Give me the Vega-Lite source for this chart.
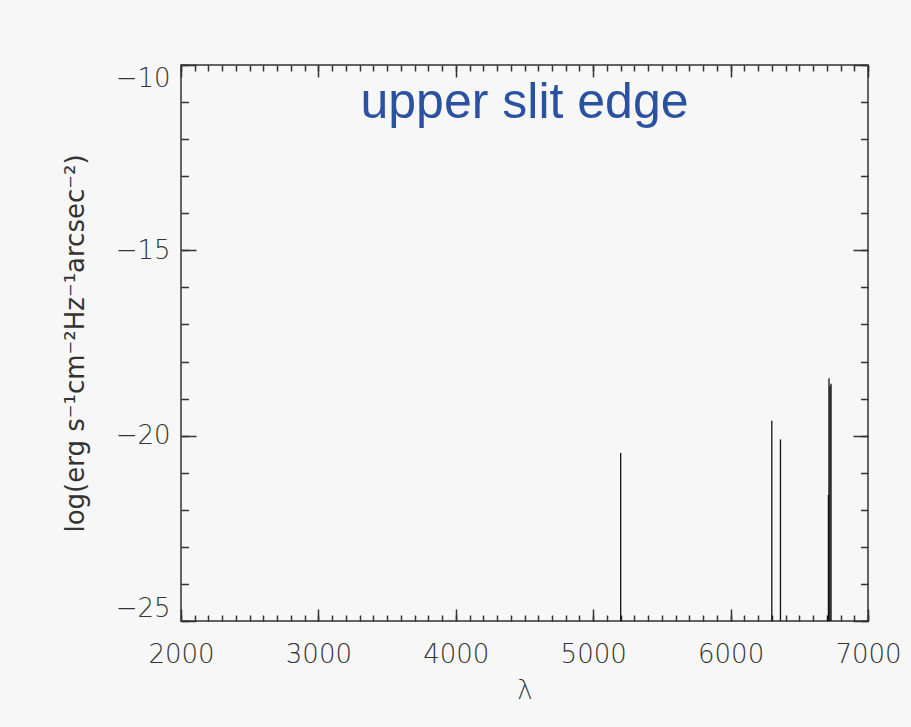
{
  "$schema": "https://vega.github.io/schema/vega-lite/v6.json",
  "width": 687,
  "height": 556,
  "autosize": {"type": "none"},
  "padding": {"left": 181, "top": 65, "right": 43, "bottom": 106},
  "background": "#f7f7f7",
  "config": {
    "view": {"stroke": "#333333", "strokeWidth": 1.5},
    "axis": {"domain": false, "grid": false, "tickColor": "#333333", "tickWidth": 1.5}
  },
  "data": {
    "values": [
      {"lambda": 5200, "logflux": -20.47},
      {"lambda": 6300, "logflux": -19.6},
      {"lambda": 6363, "logflux": -20.1},
      {"lambda": 6708, "logflux": -24.85},
      {"lambda": 6712, "logflux": -21.6},
      {"lambda": 6716, "logflux": -18.45},
      {"lambda": 6723, "logflux": -18.65},
      {"lambda": 6731, "logflux": -18.6}
    ]
  },
  "layer": [
    {
      "mark": {"type": "rule", "color": "#111111", "strokeWidth": 1.3, "clip": true},
      "encoding": {
        "x": {
          "field": "lambda", "type": "quantitative",
          "scale": {"domain": [2000, 7000], "nice": false, "zero": false},
          "axis": {
            "orient": "bottom", "values": [2000, 3000, 4000, 5000, 6000, 7000], "ticks": false,
            "format": "d", "labelFont": "DejaVu Sans", "labelFontSize": 26, "labelFontWeight": 200, "labelColor": "#333333",
            "labelPadding": 20, "labelFlush": false,
            "title": "λ", "titleFont": "DejaVu Sans", "titleFontSize": 26, "titleFontWeight": 200,
            "titleColor": "#333333", "titlePadding": 10
          }
        },
        "y": {
          "field": "logflux", "type": "quantitative",
          "scale": {"domain": [-25, -10], "nice": false, "zero": false},
          "axis": {
            "orient": "left", "values": [-25, -20, -15, -10], "ticks": false,
            "format": "d", "labelFont": "DejaVu Sans", "labelFontSize": 26, "labelFontWeight": 200, "labelColor": "#333333",
            "labelPadding": 11, "labelFlush": true,
            "title": "log(erg s⁻¹cm⁻²Hz⁻¹arcsec⁻²)", "titleFont": "DejaVu Sans", "titleFontSize": 26,
            "titleFontWeight": "normal", "titleColor": "#333333", "titlePadding": 27
          }
        },
        "y2": {"datum": -25}
      }
    },
    {
      "mark": {"type": "point", "opacity": 0},
      "encoding": {
        "x": {"field": "lambda", "type": "quantitative",
          "axis": {"orient": "bottom", "values": [2000, 3000, 4000, 5000, 6000, 7000], "labels": false, "tickSize": -12, "title": null}},
        "y": {"field": "logflux", "type": "quantitative",
          "axis": {"orient": "left", "values": [-25, -20, -15, -10], "labels": false, "tickSize": -15, "title": null}}
      }
    },
    {
      "mark": {"type": "point", "opacity": 0},
      "encoding": {
        "x": {"field": "lambda", "type": "quantitative",
          "axis": {"orient": "bottom", "values": [2000,2100,2200,2300,2400,2500,2600,2700,2800,2900,3000,3100,3200,3300,3400,3500,3600,3700,3800,3900,4000,4100,4200,4300,4400,4500,4600,4700,4800,4900,5000,5100,5200,5300,5400,5500,5600,5700,5800,5900,6000,6100,6200,6300,6400,6500,6600,6700,6800,6900,7000], "labels": false, "tickSize": -6, "title": null}},
        "y": {"field": "logflux", "type": "quantitative",
          "axis": {"orient": "left", "values": [-25,-24,-23,-22,-21,-20,-19,-18,-17,-16,-15,-14,-13,-12,-11,-10], "labels": false, "tickSize": -7.5, "title": null}}
      }
    },
    {
      "mark": {"type": "point", "opacity": 0},
      "encoding": {
        "x": {"field": "lambda", "type": "quantitative",
          "axis": {"orient": "top", "values": [2000, 3000, 4000, 5000, 6000, 7000], "labels": false, "tickSize": -12, "title": null}},
        "y": {"field": "logflux", "type": "quantitative",
          "axis": {"orient": "right", "values": [-25, -20, -15, -10], "labels": false, "tickSize": -15, "title": null}}
      }
    },
    {
      "mark": {"type": "point", "opacity": 0},
      "encoding": {
        "x": {"field": "lambda", "type": "quantitative",
          "axis": {"orient": "top", "values": [2000,2100,2200,2300,2400,2500,2600,2700,2800,2900,3000,3100,3200,3300,3400,3500,3600,3700,3800,3900,4000,4100,4200,4300,4400,4500,4600,4700,4800,4900,5000,5100,5200,5300,5400,5500,5600,5700,5800,5900,6000,6100,6200,6300,6400,6500,6600,6700,6800,6900,7000], "labels": false, "tickSize": -6, "title": null}},
        "y": {"field": "logflux", "type": "quantitative",
          "axis": {"orient": "right", "values": [-25,-24,-23,-22,-21,-20,-19,-18,-17,-16,-15,-14,-13,-12,-11,-10], "labels": false, "tickSize": -7.5, "title": null}}
      }
    },
    {
      "data": {"values": [{"label": "upper slit edge"}]},
      "mark": {"type": "text", "font": "Liberation Sans", "fontSize": 50, "color": "#2b52a0", "align": "center", "baseline": "alphabetic"},
      "encoding": {
        "x": {"datum": 4500, "type": "quantitative", "axis": null},
        "y": {"datum": -11.43, "type": "quantitative", "axis": null},
        "text": {"field": "label"}
      }
    }
  ],
  "resolve": {
    "scale": {"x": "shared", "y": "shared"},
    "axis": {"x": "independent", "y": "independent"}
  }
}
